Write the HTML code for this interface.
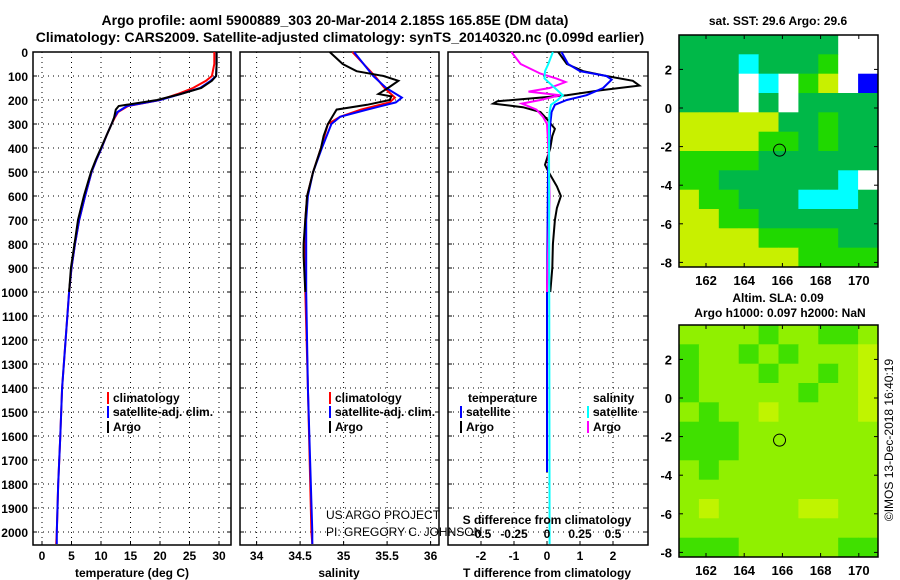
<!DOCTYPE html>
<html><head><meta charset="utf-8"><style>
body{margin:0;background:#fff;}
svg{display:block;font-family:"Liberation Sans",sans-serif;}
.b{font-weight:bold;}
</style></head><body>
<svg id="s" width="900" height="580" viewBox="0 0 900 580">
<rect width="900" height="580" fill="#fff"/>
<text x="335" y="25" text-anchor="middle" class="b" font-size="14">Argo profile: aoml 5900889_303 20-Mar-2014 2.185S 165.85E (DM data)</text>
<text x="340" y="42" text-anchor="middle" class="b" font-size="14">Climatology: CARS2009. Satellite-adjusted climatology: synTS_20140320.nc (0.099d earlier)</text>
<g id="g"></g>
</svg>
<script>
// ---- data ----
const tDepth=[0,50,100,120,150,175,200,225,250,275,300,350,400,450,500,600,700,800,900,1000,1200,1400,1600,1800,2000,2050];
const tClim=[29.2,29.2,28.8,27.8,25.6,23.0,20.0,14.6,12.9,12.3,11.8,10.9,10.1,9.2,8.4,7.3,6.3,5.6,5.0,4.6,4.0,3.4,3.1,2.75,2.5,2.4];
const tSat=[29.6,29.6,29.5,28.6,26.8,23.5,20.0,14.4,12.8,12.2,11.8,10.9,10.1,9.2,8.4,7.3,6.3,5.6,5.0,4.6,4.0,3.4,3.1,2.75,2.5,2.5];
const aDepth=[0,50,100,120,150,175,200,225,240,275,300,350,400,450,500,600,700,800,900,1000];
const tArgo=[29.6,29.6,29.5,28.8,27.0,23.5,19.5,13.0,12.5,12.2,11.8,10.9,10.0,9.1,8.3,7.1,6.1,5.5,4.9,4.6];
const sDepth=[0,100,150,190,210,240,270,300,400,500,600,700,1000,1400,2000,2050];
const sClim=[35.10,35.36,35.47,35.59,35.53,35.2,34.96,34.82,34.74,34.65,34.58,34.56,34.56,34.59,34.63,34.64];
const sSat=[35.12,35.34,35.49,35.67,35.60,35.27,34.96,34.86,34.75,34.65,34.59,34.57,34.57,34.59,34.64,34.64];
const saDepth=[0,50,80,100,120,150,175,185,200,220,240,300,350,400,500,600,700,800,850,1000];
const sArgo=[34.84,34.99,35.15,35.46,35.63,35.51,35.40,35.55,35.53,35.27,34.92,34.82,34.77,34.74,34.65,34.58,34.56,34.54,34.54,34.56];
const dtSatDepth=[0,50,80,100,115,150,180,200,220,250,300,500,1000,1750];
const dtSat=[0.44,0.64,1.0,1.8,1.96,1.7,1.2,0.6,0.24,0.14,0.1,0.03,0,0];
const dtArgoDepth=[0,50,80,100,120,140,160,180,190,205,215,230,250,280,320,350,400,470,500,560,600,650,700,800,900,1000];
const dtArgo=[0.34,0.6,1.1,1.8,2.6,2.8,1.6,0.6,-0.2,-1.5,-1.63,-0.73,-0.2,0,0.24,0.16,0.1,-0.06,0.05,0.3,0.42,0.3,0.24,0.18,0.16,0.1];
const dsSatDepth=[0,50,80,110,150,180,200,220,250,300,2050];
const dsSat=[0.045,0.01,-0.015,-0.02,0.06,0.12,0.08,0.03,0.02,0.015,0.02];
const dsArgoDepth=[0,50,90,110,125,150,165,180,200,215,240,270,300,400,600,800,1000];
const dsArgo=[-0.27,-0.2,-0.05,0.07,0.14,0.02,-0.14,0.1,-0.05,-0.19,-0.08,-0.03,0,0.01,0.02,0.01,0];
const depthTicks=[0,100,200,300,400,500,600,700,800,900,1000,1100,1200,1300,1400,1500,1600,1700,1800,1900,2000];
const tTicks=[0,5,10,15,20,25,30];
const sTicks=[34,34.5,35,35.5,36];
const sTickLabels=['34','34.5','35','35.5','36'];
const dtTicks=[-2,-1,0,1,2];
const dsTicks=[-0.5,-0.25,0,0.25,0.5];
const dsTickLabels=['-0.5','-0.25','0','0.25','0.5'];
const lonTicks=[162,164,166,168,170];
const latTicks=[2,0,-2,-4,-6,-8];
const sstGrid=["GGGGGGGGWW","GGGCGGGLWW","GGGWCWLYWB","GGGWGWGGGG","YYYYYGGLGG","YYYYLLGLGG","LLLLGGGGGG","LLGGGGGGCW","YLLGGGCCCG","YYLLGGGGGG","YYYYLLLLGG","YYYYYYLLLL"];
const slaGrid=["MMMMDMMDDM","DMMDMDMMMY","DMMMDMMDMY","DMMMMMDMMY","MDMMYMMMMY","DDDMMMMMMM","DDDMMMMMMM","MDMMMMMMMM","MMMMMMMMMM","MYMMMMYYMM","MMMMMMMMMM","DDDMMMMMDD"];
// ---- helpers ----
const NS='http://www.w3.org/2000/svg';const G=document.getElementById('g');
function mk(t,a,p){const e=document.createElementNS(NS,t);for(const k in a)e.setAttribute(k,a[k]);(p||G).appendChild(e);return e;}
const yD=d=>52+0.24*d;
const PB=545;
function panel(x0,x1,xs,ticks,labels,name,grid){
  const r=mk('rect',{x:x0,y:52,width:x1-x0,height:PB-52,fill:'none',stroke:'#000','stroke-width':1.5});
  
  
  grid.forEach(v=>{const l=mk('line',{x1:xs(v),x2:xs(v),y1:52,y2:PB,stroke:'#000','stroke-dasharray':'1,4'});
    
    });
  depthTicks.forEach(d=>{const l=mk('line',{x1:x0,x2:x1,y1:yD(d),y2:yD(d),stroke:'#000','stroke-dasharray':'1,4'});
    
    
    mk('line',{x1:x0,x2:x0+4,y1:yD(d),y2:yD(d),stroke:'#000'});mk('line',{x1:x1-4,x2:x1,y1:yD(d),y2:yD(d),stroke:'#000'});});
  ticks.forEach((v,i)=>{const t=mk('text',{x:xs(v),y:560,'text-anchor':'middle','font-size':12,'font-weight':'bold'});t.textContent=labels[i];
    
    
    mk('line',{x1:xs(v),x2:xs(v),y1:PB-4,y2:PB,stroke:'#000'});});
}
function line(xs,depths,vals,col,name){
  const pts=depths.map((d,i)=>xs(vals[i]).toFixed(1)+','+yD(d).toFixed(1)).join(' ');
  const p=mk('polyline',{points:pts,fill:'none',stroke:col,'stroke-width':2});
  
  
}
function txt(x,y,s,size,bold,name,anchor){const t=mk('text',{x:x,y:y,'font-size':size,'font-weight':bold?'bold':'normal','text-anchor':anchor||'start'});t.textContent=s;
  
  return t;}
// panel 1
const xT=v=>42+5.9*v;
panel(33,231,xT,tTicks,tTicks.map(String),'temperature-panel',tTicks);
line(xT,tDepth,tClim,'#f00','temp-climatology-line');
line(xT,tDepth,tSat,'#00f','temp-satellite-line');
line(xT,aDepth,tArgo,'#000','temp-argo-line');
depthTicks.forEach(d=>txt(28,yD(d)+5,String(d),12,true,'depth-tick-label','end'));
txt(132,577,'temperature (deg C)',12,true,'temperature-axis-title','middle');
// panel 2
const xS=v=>256.6+87*(v-34);
panel(240,439,xS,sTicks,sTickLabels,'salinity-panel',sTicks);
line(xS,sDepth,sClim,'#f00','sal-climatology-line');
line(xS,sDepth,sSat,'#00f','sal-satellite-line');
line(xS,saDepth,sArgo,'#000','sal-argo-line');
txt(339,577,'salinity',12,true,'salinity-axis-title','middle');
// panel 3
const xDT=v=>547+33*v;const xDS=v=>547+132*v;
panel(448,648,xDT,dtTicks,dtTicks.map(String),'difference-panel',dtTicks);
line(xDT,dtArgoDepth,dtArgo,'#000','dt-argo-line');
line(xDT,dtSatDepth,dtSat,'#00f','dt-satellite-line');
line(xDS,dsArgoDepth,dsArgo,'#f0f','ds-argo-line');
line(xDS,dsSatDepth,dsSat,'#0ff','ds-satellite-line');
dsTicks.forEach((v,i)=>txt(xDS(v),538,dsTickLabels[i],12,true,'s-diff-tick','middle'));
txt(547,524,'S difference from climatology',12,true,'s-diff-axis-title','middle');
txt(547,577,'T difference from climatology',12,true,'t-diff-axis-title','middle');
// legends
function leg(x,y,col,s,name){const r=mk('rect',{x:x,y:y-10,width:2,height:12,fill:col});txt(x+6,y,s,12,true,name);}
leg(107,402,'#f00','climatology','legend-t-climatology');leg(107,416,'#00f','satellite-adj. clim.','legend-t-satellite');leg(107,431,'#000','Argo','legend-t-argo');
leg(329,402,'#f00','climatology','legend-s-climatology');leg(329,416,'#00f','satellite-adj. clim.','legend-s-satellite');leg(329,431,'#000','Argo','legend-s-argo');
txt(468,402,'temperature',12,true,'legend-temperature-header');txt(593,402,'salinity',12,true,'legend-salinity-header');
leg(460,416,'#00f','satellite','legend-dt-satellite');leg(460,431,'#000','Argo','legend-dt-argo');
leg(587,416,'#0ff','satellite','legend-ds-satellite');leg(587,431,'#f0f','Argo','legend-ds-argo');
txt(326,519,'US ARGO PROJECT',12,false,'credit-project');txt(326,536,'PI: GREGORY C. JOHNSON',12,false,'credit-pi');
// maps
const lonX=v=>706+19.1*(v-162);
function map(top,grid,cols,name){
  const latY=v=>top+73+19.3*(0-v);
  const cw=199/10,ch=232/12;
  grid.forEach((row,r)=>row.split('').forEach((c,k)=>{const e=mk('rect',{x:(679+k*cw).toFixed(1),y:(top+r*ch).toFixed(1),width:(cw+0.5).toFixed(1),height:(ch+0.5).toFixed(1),fill:cols[c]});
    
    }));
  const f=mk('rect',{x:679,y:top,width:199,height:232,fill:'none',stroke:'#000','stroke-width':1.5});
  
  
  lonTicks.forEach(v=>{txt(lonX(v),top+250,String(v),13,true,name+'-lon-tick','middle');mk('line',{x1:lonX(v),x2:lonX(v),y1:top+232,y2:top+228,stroke:'#000'});mk('line',{x1:lonX(v),x2:lonX(v),y1:top,y2:top+4,stroke:'#000'});});
  latTicks.forEach(v=>{txt(672,latY(v)+5,String(v),13,true,name+'-lat-tick','end');mk('line',{x1:679,x2:683,y1:latY(v),y2:latY(v),stroke:'#000'});mk('line',{x1:874,x2:878,y1:latY(v),y2:latY(v),stroke:'#000'});});
  const c=mk('circle',{cx:lonX(165.85),cy:latY(-2.185),r:6,fill:'none',stroke:'#000','stroke-width':1});
  
  
}
map(35,sstGrid,{W:'#fff',G:'#00b848',L:'#20d800',Y:'#c8f000',C:'#00ffff',B:'#0000ff'},'sst-map');
map(325,slaGrid,{M:'#90f000',D:'#40e000',Y:'#c0f400'},'sla-map');
txt(778,25,'sat. SST: 29.6 Argo: 29.6',12,true,'sst-map-title','middle');
txt(778,302,'Altim. SLA: 0.09',12,true,'sla-map-title','middle');
txt(780,317,'Argo h1000: 0.097 h2000: NaN',12,true,'sla-map-subtitle','middle');
const st=txt(0,0,'©IMOS 13-Dec-2018 16:40:19',12,false,'timestamp-credit','middle');
st.setAttribute('transform','translate(893,440) rotate(-90)');
</script>
</body></html>
